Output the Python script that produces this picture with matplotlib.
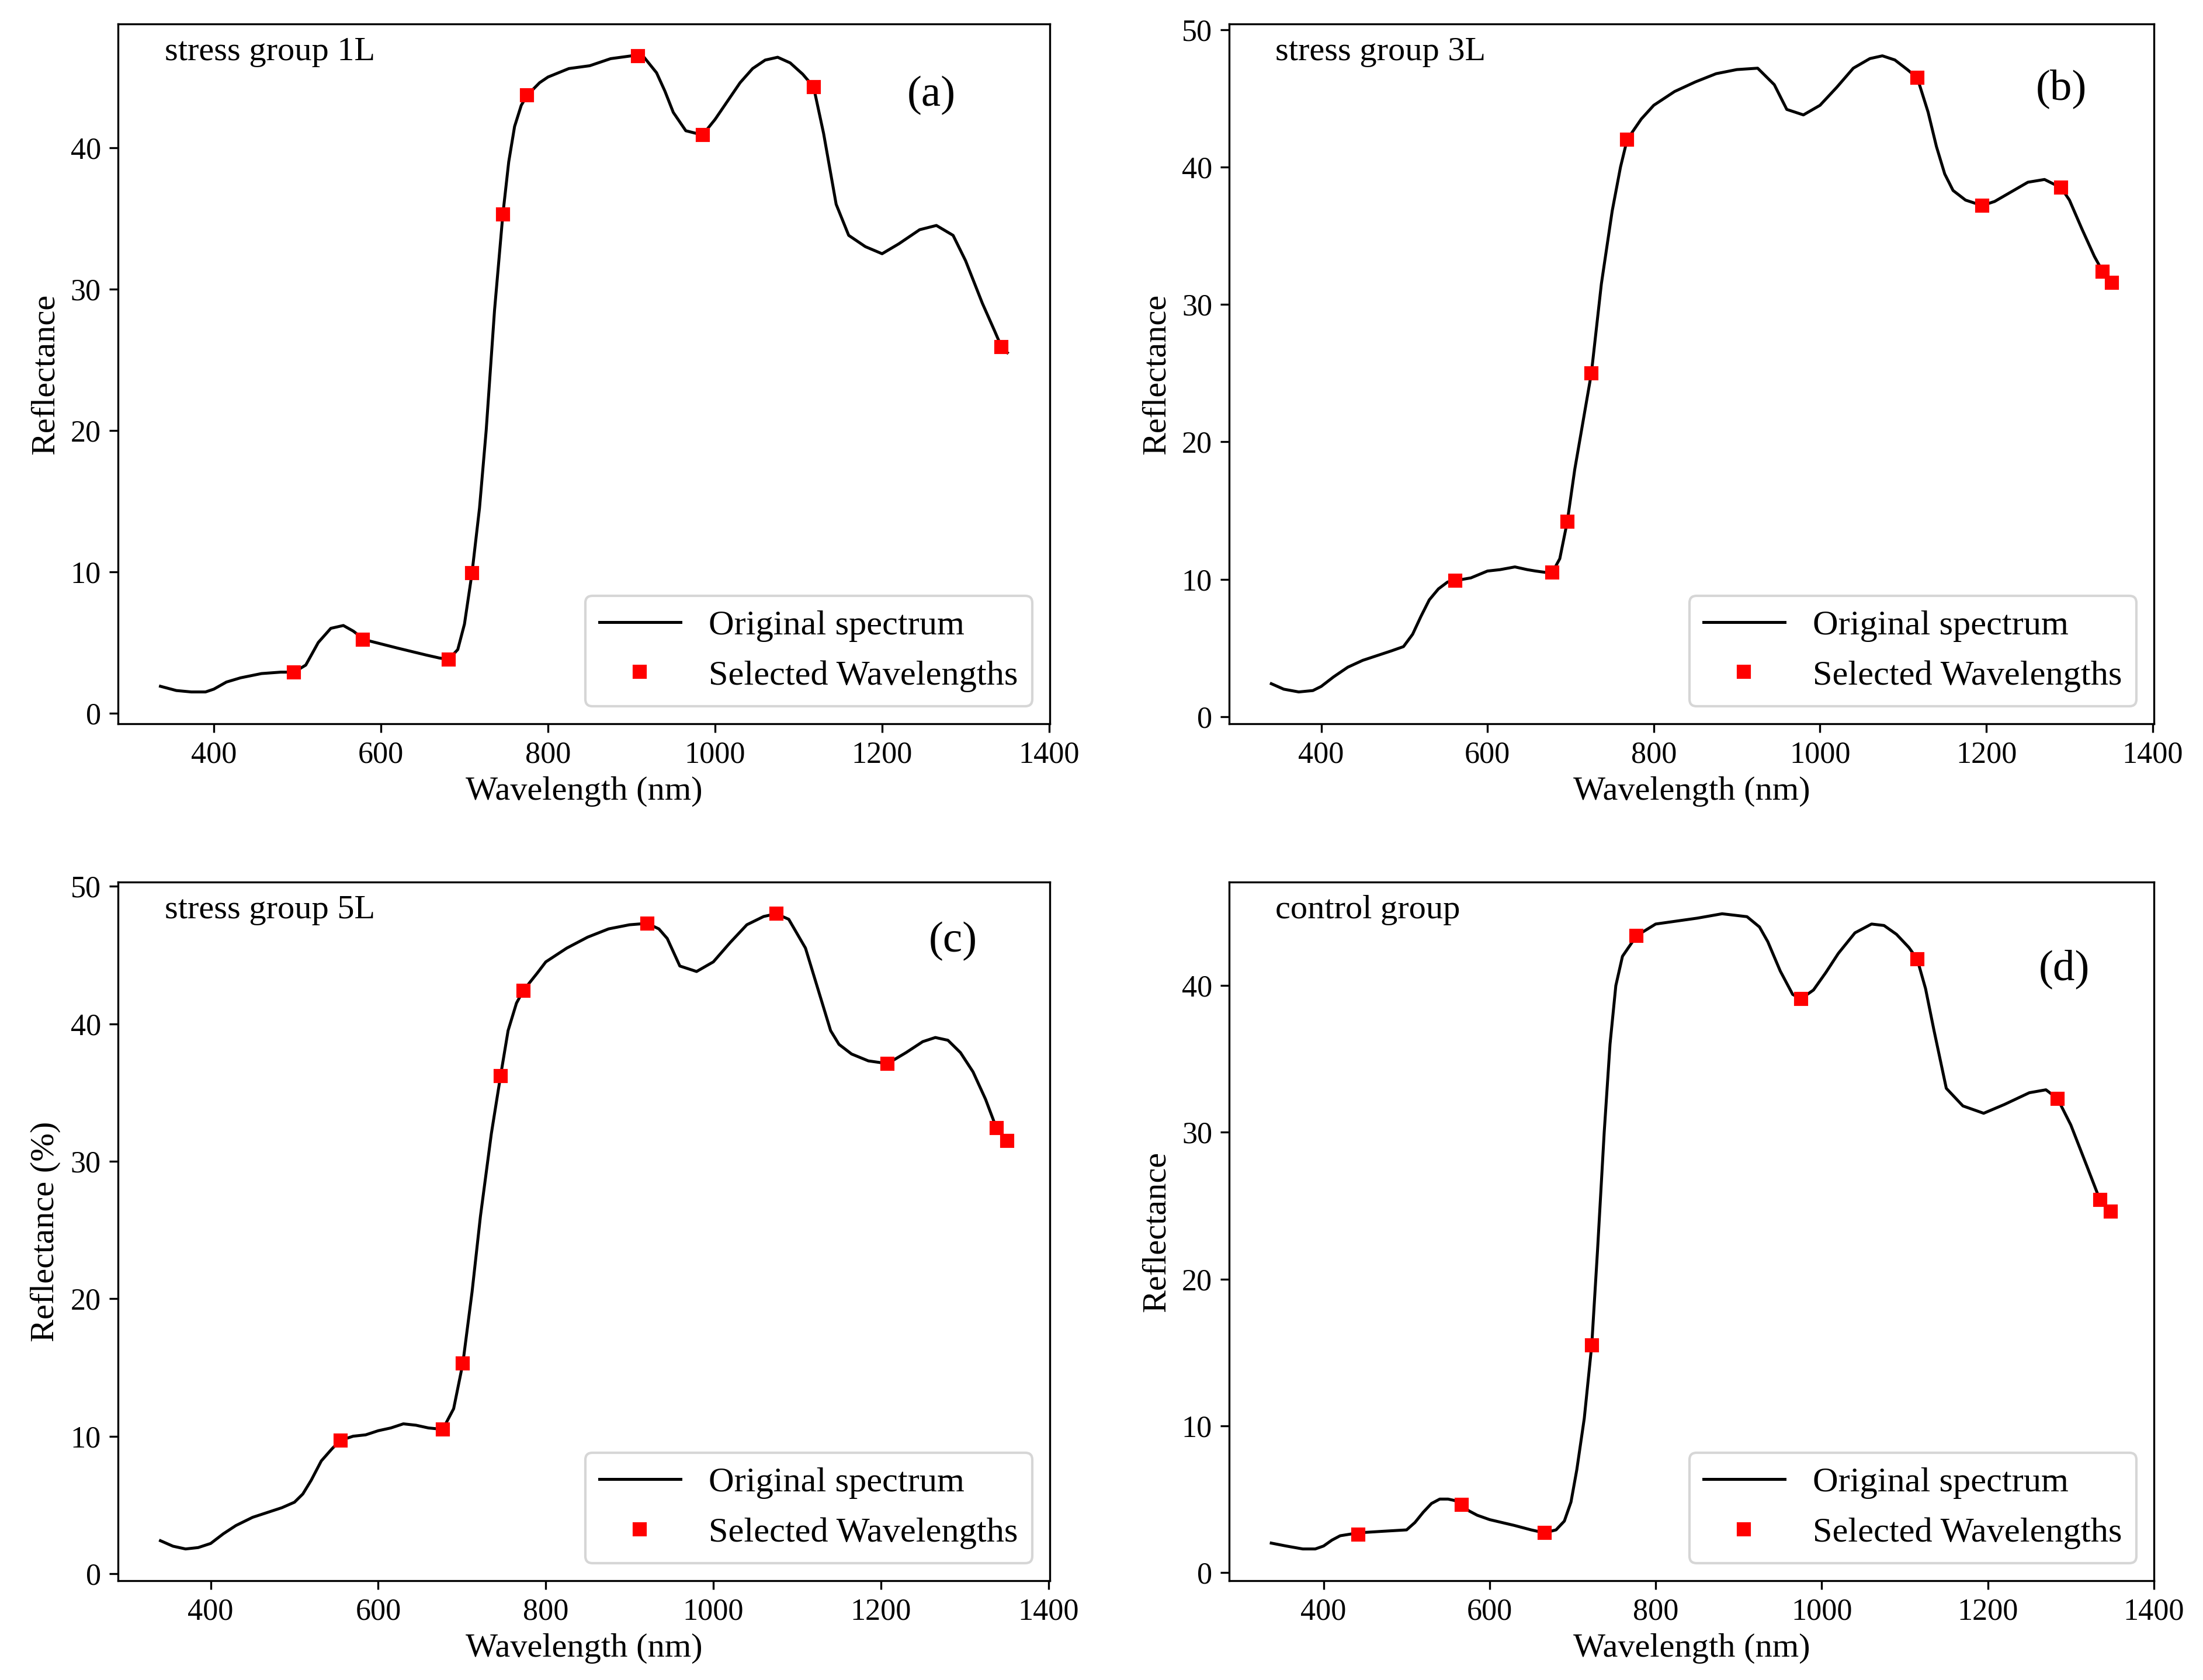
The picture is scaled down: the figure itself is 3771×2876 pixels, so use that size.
import matplotlib
matplotlib.use("Agg")
import matplotlib.pyplot as plt

plt.rcParams['font.family'] = ['Liberation Serif', 'DejaVu Serif']
plt.rcParams['mathtext.fontset'] = 'stix'

# ---- (a) stress group 1L ----
wl_a = [336, 355, 373, 390, 400, 415, 432, 457, 480, 496, 510, 525, 540, 555, 567, 580,
        600, 620, 634, 655, 670, 681, 692, 700, 709, 718, 726, 736, 746, 753, 760, 768,
        775, 790, 800, 825, 850, 875, 900, 915, 930, 940, 950, 965, 985, 1000, 1015, 1030,
        1045, 1060, 1075, 1090, 1105, 1118, 1130, 1145, 1160, 1180, 1200, 1220, 1245,
        1265, 1285, 1300, 1320, 1335, 1343, 1350]
ref_a = [1.9, 1.6, 1.5, 1.5, 1.7, 2.2, 2.5, 2.8, 2.9, 2.9, 3.4, 5.0, 6.0, 6.2, 5.8, 5.2,
         4.9, 4.6, 4.4, 4.1, 3.9, 3.8, 4.5, 6.3, 9.9, 14.5, 20.0, 28.5, 35.3, 39.0, 41.5, 43.0,
         43.7, 44.6, 45.0, 45.6, 45.8, 46.3, 46.5, 46.4, 45.3, 44.0, 42.5, 41.2, 40.9, 42.0, 43.3, 44.6,
         45.6, 46.2, 46.4, 46.0, 45.2, 44.3, 41.0, 36.0, 33.8, 33.0, 32.5, 33.2, 34.2,
         34.5, 33.8, 32.0, 29.0, 27.0, 25.9, 25.5]
sel_wl_a = [496, 578, 681, 709, 746, 775, 908, 985, 1118, 1343]
sel_ref_a = [2.9, 5.2, 3.8, 9.9, 35.3, 43.7, 46.5, 40.9, 44.3, 25.9]

# ---- (b) stress group 3L ----
wl_b = [340, 355, 373, 390, 400, 415, 432, 450, 465, 485, 499, 510, 520, 530, 541, 552,
        561, 580, 600, 615, 633, 648, 658, 670, 678, 687, 696, 705, 715, 725, 737, 750,
        760, 768, 785, 800, 825, 850, 875, 900, 925, 935, 945, 960, 980, 1000, 1020, 1040,
        1060, 1075, 1090, 1105, 1117, 1130, 1140, 1150, 1160, 1175, 1195, 1210, 1230,
        1250, 1270, 1290, 1300, 1315, 1330, 1340, 1351]
ref_b = [2.4, 2.0, 1.8, 1.9, 2.2, 2.9, 3.6, 4.1, 4.4, 4.8, 5.1, 6.0, 7.3, 8.5, 9.3, 9.8,
         9.9, 10.1, 10.6, 10.7, 10.9, 10.7, 10.6, 10.5, 10.5, 11.5, 14.2, 18.0, 21.5, 25.0, 31.5, 36.8,
         40.0, 42.0, 43.5, 44.5, 45.5, 46.2, 46.8, 47.1, 47.2, 46.6, 46.0, 44.2, 43.8, 44.5, 45.8, 47.2,
         47.9, 48.1, 47.8, 47.1, 46.5, 44.0, 41.5, 39.5, 38.3, 37.6, 37.2, 37.5, 38.2,
         38.9, 39.1, 38.5, 37.6, 35.5, 33.5, 32.4, 31.6]
sel_wl_b = [561, 678, 696, 725, 768, 1117, 1195, 1290, 1340, 1351]
sel_ref_b = [9.9, 10.5, 14.2, 25.0, 42.0, 46.5, 37.2, 38.5, 32.4, 31.6]

# ---- (c) stress group 5L ----
wl_c = [340, 355, 370, 385, 400, 415, 430, 450, 465, 485, 500, 510, 520, 532, 545, 555,
        570, 585, 600, 615, 630, 645, 660, 677, 690, 701, 712, 722, 735, 746, 755, 765,
        773, 790, 800, 825, 850, 875, 900, 921, 935, 945, 960, 980, 1000, 1020, 1040, 1060,
        1075, 1090, 1110, 1125, 1140, 1150, 1165, 1185, 1208, 1230, 1250, 1265, 1280,
        1295, 1310, 1325, 1338, 1351]
ref_c = [2.4, 2.0, 1.8, 1.9, 2.2, 2.9, 3.5, 4.1, 4.4, 4.8, 5.2, 5.8, 6.8, 8.2, 9.1, 9.7,
         10.0, 10.1, 10.4, 10.6, 10.9, 10.8, 10.6, 10.5, 12.0, 15.3, 20.5, 26.0, 32.0, 36.2, 39.5, 41.5,
         42.4, 43.7, 44.5, 45.5, 46.3, 46.9, 47.2, 47.3, 46.9, 46.2, 44.2, 43.8, 44.5, 45.9, 47.2, 47.8,
         48.0, 47.6, 45.5, 42.5, 39.5, 38.5, 37.8, 37.3, 37.1, 37.9, 38.7, 39.0, 38.8,
         37.9, 36.5, 34.5, 32.4, 31.5]
sel_wl_c = [555, 677, 701, 746, 773, 921, 1075, 1208, 1338, 1351]
sel_ref_c = [9.7, 10.5, 15.3, 36.2, 42.4, 47.3, 48.0, 37.1, 32.4, 31.5]

# ---- (d) control group ----
wl_d = [337, 355, 375, 390, 400, 410, 420, 442, 470, 500, 510, 520, 530, 540, 550, 558,
        566, 575, 585, 600, 615, 630, 650, 666, 680, 690, 698, 705, 714, 723, 730, 738,
        745, 752, 760, 777, 800, 825, 850, 880, 910, 925, 935, 950, 965, 975, 990, 1005,
        1020, 1040, 1060, 1075, 1090, 1105, 1115, 1125, 1135, 1150, 1170, 1195, 1220,
        1250, 1270, 1284, 1300, 1320, 1335, 1348]
ref_d = [2.0, 1.8, 1.6, 1.6, 1.8, 2.2, 2.5, 2.7, 2.8, 2.9, 3.4, 4.1, 4.7, 5.0, 5.0, 4.9,
         4.6, 4.2, 3.9, 3.6, 3.4, 3.2, 2.9, 2.7, 2.9, 3.5, 4.8, 7.0, 10.5, 15.5, 22.0, 30.0,
         36.0, 40.0, 42.0, 43.4, 44.2, 44.4, 44.6, 44.9, 44.7, 44.0, 43.0, 41.0, 39.4, 39.1, 39.7, 40.9,
         42.2, 43.6, 44.2, 44.1, 43.5, 42.6, 41.8, 39.8, 37.0, 33.0, 31.8, 31.3, 31.9,
         32.7, 32.9, 32.3, 30.5, 27.6, 25.4, 24.6]
sel_wl_d = [442, 566, 666, 723, 777, 975, 1115, 1284, 1335, 1348]
sel_ref_d = [2.6, 4.6, 2.7, 15.5, 43.4, 39.1, 41.8, 32.3, 25.4, 24.6]

groups = ['stress group 1L', 'stress group 3L', 'stress group 5L', 'control group']
tags = ['(a)', '(b)', '(c)', '(d)']
ylabels = ['Reflectance', 'Reflectance', 'Reflectance (%)', 'Reflectance']

fig = plt.figure(figsize=(3771 / 300, 2876 / 300), dpi=300)
boxes = [[0.0536, 0.5692, 0.4229, 0.4165],
         [0.5580, 0.5692, 0.4197, 0.4165],
         [0.0536, 0.0591, 0.4229, 0.4159],
         [0.5580, 0.0591, 0.4197, 0.4159]]
tag_pos = [(0.873, 0.898), (0.900, 0.907), (0.896, 0.915), (0.903, 0.875)]

data = [(wl_a, ref_a, sel_wl_a, sel_ref_a),
        (wl_b, ref_b, sel_wl_b, sel_ref_b),
        (wl_c, ref_c, sel_wl_c, sel_ref_c),
        (wl_d, ref_d, sel_wl_d, sel_ref_d)]

for i in range(4):
    ax = fig.add_axes(boxes[i])
    wl, ref, swl, sref = data[i]
    ax.plot(wl, ref, color='black', lw=1.2, label='Original spectrum')
    ax.plot(swl, sref, 's', color='red', ms=4.8, ls='none', label='Selected Wavelengths')
    ax.set_xticks([400, 600, 800, 1000, 1200, 1400])
    ax.tick_params(labelsize=12.5)
    ax.set_xlabel('Wavelength (nm)', fontsize=14, labelpad=3)
    ax.set_ylabel(ylabels[i], fontsize=14)
    ax.text(0.05, 0.96, groups[i], transform=ax.transAxes, fontsize=14, va='center')
    ax.text(tag_pos[i][0], tag_pos[i][1], tags[i], transform=ax.transAxes,
            fontsize=18, ha='center', va='center')
    ax.legend(loc='lower right', fontsize=14.5, handlelength=2.3)

plt.savefig('out.png', dpi=300)
